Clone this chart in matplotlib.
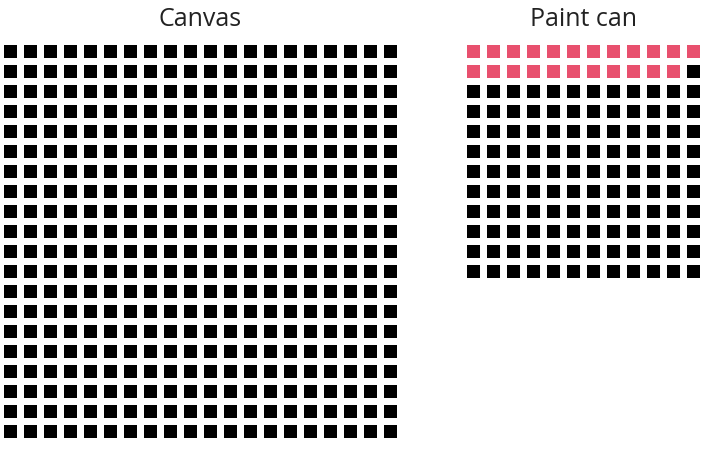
import matplotlib
matplotlib.use("Agg")
import matplotlib.pyplot as plt
import numpy as np

titles = ["Canvas", "Paint can"]
grid_rows = [20, 12]
grid_cols = [20, 12]
filled = [0, 23]

W, H = 705, 450
fig = plt.figure(figsize=(W / 100, H / 100), dpi=100)
fig.patch.set_facecolor("white")

# axes placement in pixels: left, top, cell size
placements = [(0.5, 41.5, 20.0), (463.5, 41.5, 20.0)]
sq_px = 13.0
colors_fill = "#e8506e"

for title, nr, nc, nf, (lx, ty, cell) in zip(titles, grid_rows, grid_cols, filled, placements):
    w = nc * cell
    h = nr * cell
    ax = fig.add_axes([lx / W, (H - ty - h) / H, w / W, h / H])
    ax.set_xlim(-0.5, nc - 0.5)
    ax.set_ylim(nr - 0.5, -0.5)
    idx = np.arange(nr * nc)
    xs = idx % nc
    ys = idx // nc
    cols = np.where(idx < nf, colors_fill, "black")
    s = (sq_px * 72 / 100) ** 2
    ax.scatter(xs, ys, s=s, marker="s", c=cols, linewidths=0)
    ax.axis("off")
    cx = (lx + w / 2) / W
    fig.text(cx, (H - 20) / H, title, ha="center", va="center",
             fontsize=18, family=["Open Sans", "DejaVu Sans"], color="#222222")

fig.savefig("out.png", dpi=100, facecolor="white")
